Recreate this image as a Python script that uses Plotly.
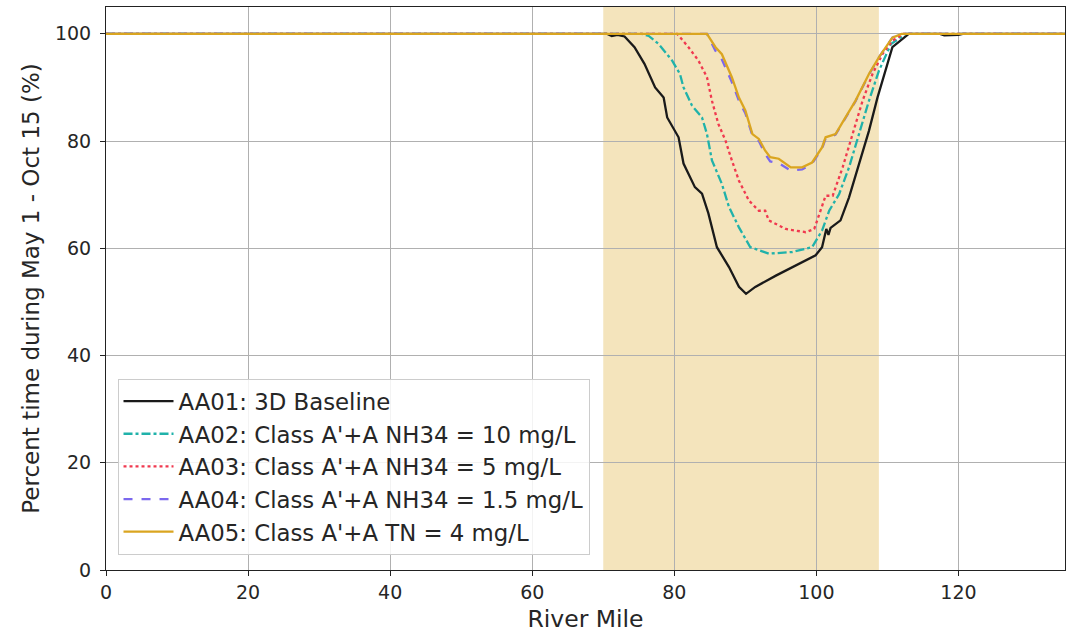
import plotly.graph_objects as go

# ---- data ----
aa01_x = [0, 70.5, 71.2, 72.0, 73.0, 74.4, 75.8, 77.3, 78.5, 79.0, 80.6, 81.3, 82.9, 83.9, 84.8, 86.0, 87.7, 89.1, 90.1,
          91.4, 94.3, 97.6, 99.9, 100.8, 101.4, 101.7, 102.0, 103.4, 104.6, 106.0, 107.4, 108.6, 109.8, 110.7, 113.0,
          117.4, 118.0, 120.0, 120.6, 135]
aa01_y = [100, 100, 99.6, 99.8, 99.5, 97.5, 94.4, 90.0, 88.1, 84.4, 80.7, 75.8, 71.4, 70.2, 66.5, 60.2, 56.5, 52.8, 51.5,
          52.8, 54.9, 57.1, 58.7, 60.2, 63.6, 62.5, 63.8, 65.2, 69.5, 75.7, 81.9, 88.1, 93.7, 97.5, 100,
          100, 99.7, 99.8, 100, 100]

aa02_x = [0, 75.4, 76.4, 77.8, 79.7, 80.8, 81.3, 82.5, 83.9, 84.6, 85.3, 86.7, 87.7, 89.1, 90.7, 93.3, 96.6, 99.4,
          100.8, 101.8, 103.2, 104.6, 106.0, 107.4, 108.8, 110.5, 112.6, 135]
aa02_y = [100, 100, 99.6, 98.1, 95.0, 92.5, 90.0, 86.6, 84.4, 81.3, 76.4, 72.0, 67.7, 63.9, 60.2, 59.0, 59.3, 60.2,
          63.3, 67.0, 70.1, 75.1, 81.3, 87.5, 93.1, 98.1, 100, 100]

aa03_x = [0, 80.4, 82.0, 83.4, 84.6, 85.3, 86.2, 87.2, 88.1, 89.1, 90.5, 91.9, 92.8, 93.3, 95.7, 98.5, 99.7, 100.8,
          101.3, 102.3, 103.7, 105.1, 106.5, 107.9, 109.3, 110.7, 112.3, 135]
aa03_y = [100, 100, 97.5, 95.0, 91.9, 87.5, 83.2, 80.1, 76.4, 72.6, 68.9, 67.0, 67.0, 65.2, 63.6, 63.0, 63.6, 67.7,
          69.8, 69.8, 75.1, 81.3, 87.5, 92.5, 96.2, 98.7, 100, 100]

aa04_x = [0, 84.6, 85.8, 86.7, 88.1, 89.1, 90.0, 91.0, 91.9, 92.8, 93.5, 94.7, 96.4, 98.0, 99.4, 100.8, 101.3, 102.7,
          104.1, 105.5, 107.4, 108.8, 110.7, 112.0, 135]
aa04_y = [100, 100, 96.8, 95.2, 91.0, 87.5, 85.2, 81.0, 80.0, 77.6, 76.2, 75.9, 74.5, 74.7, 75.8, 78.6, 80.5, 81.2,
          84.3, 87.4, 92.4, 95.6, 99.3, 100, 100]

aa05_x = [0, 84.6, 85.8, 86.7, 88.1, 89.1, 90.0, 91.0, 91.9, 92.8, 93.5, 94.7, 96.4, 98.0, 99.4, 100.8, 101.3, 102.7,
          104.1, 105.5, 107.4, 108.8, 110.7, 112.0, 135]
aa05_y = [100, 100, 97.5, 96.2, 91.9, 88.1, 85.7, 81.3, 80.4, 78.2, 77.0, 76.7, 75.1, 75.1, 76.0, 78.8, 80.7, 81.3,
          84.4, 87.5, 92.5, 95.6, 99.3, 100, 100]

series_names = ["AA01: 3D Baseline",
                "AA02: Class A'+A NH34 = 10 mg/L",
                "AA03: Class A'+A NH34 = 5 mg/L",
                "AA04: Class A'+A NH34 = 1.5 mg/L",
                "AA05: Class A'+A TN = 4 mg/L"]

shade_start, shade_end = 70.0, 108.8
x_ticks = [0, 20, 40, 60, 80, 100, 120]
y_ticks = [0, 20, 40, 60, 80, 100]

# ---- figure ----
FONT = "DejaVu Sans"
TXT = "#262626"
fig = go.Figure()

styles = [
    dict(color="#1a1a1a", dash="solid", width=2.3),
    dict(color="#20B2AA", dash="dashdot", width=2.3),
    dict(color="#F0394F", dash="dot", width=2.3),
    dict(color="#7B68EE", dash="dash", width=2.3),
    dict(color="#DAA520", dash="solid", width=2.3),
]
data = [(aa01_x, aa01_y), (aa02_x, aa02_y), (aa03_x, aa03_y), (aa04_x, aa04_y), (aa05_x, aa05_y)]
for (xs, ys), name, st in zip(data, series_names, styles):
    fig.add_trace(go.Scatter(x=xs, y=ys, mode="lines", name=name, line=st))

fig.add_vrect(x0=shade_start, x1=shade_end, fillcolor="#DAA520", opacity=0.3,
              line_width=0, layer="below")

axis_common = dict(
    showline=True, linecolor="#222", linewidth=1, mirror=True,
    ticks="outside", ticklen=5, tickcolor="#222",
    showgrid=True, gridcolor="#b0b0b0", gridwidth=1,
    zeroline=False, automargin=False,
    tickfont=dict(family=FONT, size=19, color=TXT),
)
fig.update_xaxes(range=[0, 135], tickvals=x_ticks,
                 title=dict(text="River Mile", font=dict(family=FONT, size=23.5, color=TXT), standoff=8),
                 **axis_common)
fig.update_yaxes(range=[0, 105], tickvals=y_ticks, ticklabelstandoff=5,
                 title=dict(text="Percent time during May 1 - Oct 15 (%)",
                            font=dict(family=FONT, size=23, color=TXT), standoff=8),
                 **axis_common)

fig.update_layout(
    width=1076, height=635,
    margin=dict(l=106, r=11, t=7, b=65),
    plot_bgcolor="white", paper_bgcolor="white",
    font=dict(family=FONT, size=19, color=TXT),
    legend=dict(x=0.012, y=0.027, xanchor="left", yanchor="bottom",
                bgcolor="rgba(255,255,255,0.85)", bordercolor="#cccccc", borderwidth=1,
                font=dict(family=FONT, size=22.8, color=TXT),
                itemwidth=50, tracegroupgap=0),
    showlegend=True,
)

fig.write_html("out.html", config={"displayModeBar": False},
               post_script="document.body.style.margin='0px';")
